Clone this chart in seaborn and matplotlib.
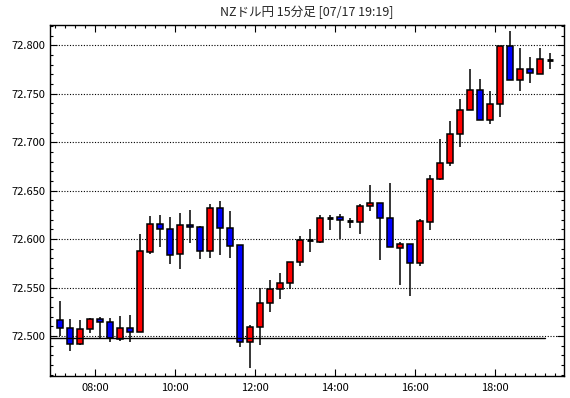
import matplotlib
matplotlib.use("Agg")
import pandas as pd
import seaborn as sns
import matplotlib.pyplot as plt
from matplotlib.ticker import MultipleLocator, FixedLocator

# 15 minute bars (bar start time), NZD/JPY
bar_times = ["07:00", "07:15", "07:30", "07:45", "08:00", "08:15", "08:30", "08:45",
             "09:00", "09:15", "09:30", "09:45", "10:00", "10:15", "10:30", "10:45",
             "11:00", "11:15", "11:30", "11:45", "12:00", "12:15", "12:30", "12:45",
             "13:00", "13:15", "13:30", "13:45", "14:00", "14:15", "14:30", "14:45",
             "15:00", "15:15", "15:30", "15:45", "16:00", "16:15", "16:30", "16:45",
             "17:00", "17:15", "17:30", "17:45", "18:00", "18:15", "18:30", "18:45",
             "19:00", "19:15"]
open_ = [72.517, 72.508, 72.492, 72.507, 72.518, 72.514, 72.497, 72.508,
         72.504, 72.587, 72.616, 72.610, 72.585, 72.615, 72.612, 72.588,
         72.632, 72.611, 72.594, 72.494, 72.509, 72.534, 72.548, 72.555,
         72.576, 72.599, 72.597, 72.622, 72.623, 72.619, 72.618, 72.634,
         72.637, 72.622, 72.591, 72.595, 72.575, 72.618, 72.662, 72.679,
         72.708, 72.733, 72.754, 72.723, 72.739, 72.799, 72.764, 72.776,
         72.770, 72.785]
high = [72.536, 72.518, 72.516, 72.519, 72.520, 72.519, 72.521, 72.522,
        72.605, 72.624, 72.625, 72.623, 72.627, 72.630, 72.614, 72.636,
        72.639, 72.629, 72.594, 72.511, 72.550, 72.558, 72.565, 72.576,
        72.603, 72.610, 72.625, 72.625, 72.626, 72.622, 72.636, 72.656,
        72.637, 72.658, 72.597, 72.595, 72.621, 72.666, 72.703, 72.722,
        72.745, 72.776, 72.765, 72.753, 72.799, 72.815, 72.797, 72.788,
        72.797, 72.792]
low = [72.500, 72.484, 72.491, 72.503, 72.498, 72.494, 72.495, 72.494,
       72.504, 72.585, 72.592, 72.574, 72.569, 72.596, 72.579, 72.580,
       72.584, 72.581, 72.489, 72.467, 72.491, 72.525, 72.538, 72.549,
       72.572, 72.587, 72.596, 72.609, 72.600, 72.611, 72.605, 72.629,
       72.578, 72.592, 72.553, 72.541, 72.572, 72.609, 72.661, 72.675,
       72.695, 72.733, 72.723, 72.719, 72.726, 72.764, 72.753, 72.761,
       72.770, 72.776]
close = [72.508, 72.492, 72.507, 72.518, 72.514, 72.498, 72.508, 72.504,
         72.588, 72.616, 72.610, 72.584, 72.615, 72.612, 72.588, 72.632,
         72.611, 72.593, 72.494, 72.509, 72.534, 72.548, 72.555, 72.576,
         72.599, 72.599, 72.622, 72.622, 72.620, 72.619, 72.634, 72.637,
         72.622, 72.592, 72.595, 72.575, 72.619, 72.662, 72.679, 72.708,
         72.733, 72.754, 72.723, 72.739, 72.799, 72.764, 72.776, 72.771,
         72.786, 72.785]
ref_price = 72.498   # solid reference line
hour_ticks = [8, 10, 12, 14, 16, 18]
hour_labels = ["08:00", "10:00", "12:00", "14:00", "16:00", "18:00"]
title = "NZドル円 15分足 [07/17 19:19]"

df = pd.DataFrame({"time": bar_times, "open": open_, "high": high,
                   "low": low, "close": close})
t = pd.to_datetime(df["time"], format="%H:%M")
df["x"] = t.dt.hour + t.dt.minute / 60 + 7.5 / 60   # bar centre in hours

sns.set_style("ticks")
plt.rcParams["font.family"] = ["Noto Sans CJK JP", "DejaVu Sans"]

fig = plt.figure(figsize=(5.7, 3.98), dpi=100)
ax = fig.add_axes([50 / 570, 22 / 398, 514 / 570, 351 / 398])

body_w = 0.155
up = df[df["close"] > df["open"]]
down = df[df["close"] < df["open"]]
flat = df[df["close"] == df["open"]]

ax.vlines(df["x"], df["low"], df["high"], color="black", lw=1.1, zorder=2)
ax.bar(up["x"], up["close"] - up["open"], bottom=up["open"], width=body_w,
       color="#ff0000", edgecolor="black", linewidth=1.1, zorder=3)
ax.bar(down["x"], down["open"] - down["close"], bottom=down["close"], width=body_w,
       color="#0000ff", edgecolor="black", linewidth=1.1, zorder=3)
ax.hlines(flat["close"], flat["x"] - body_w / 2, flat["x"] + body_w / 2,
          color="black", lw=2.0, zorder=3)

# reference line up to the latest bar
sns.lineplot(x=[6.875, df["x"].iloc[-1] - 0.125], y=[ref_price, ref_price],
             color="black", lw=1.0, ax=ax, zorder=4)

ax.set_xlim(6.875, 19.725)
ax.set_ylim(72.4587, 72.821)

ax.xaxis.set_major_locator(FixedLocator(hour_ticks))
ax.set_xticklabels(hour_labels)
ax.xaxis.set_minor_locator(MultipleLocator(0.25))
ax.yaxis.set_major_locator(MultipleLocator(0.05))
ax.yaxis.set_minor_locator(MultipleLocator(0.01))
ax.yaxis.set_major_formatter(plt.FuncFormatter(lambda v, p: f"{v:.3f}"))

ax.yaxis.grid(True, which="major", color="black", lw=0.8, linestyle=(0, (1, 1.5)))
ax.set_axisbelow(True)

ax.tick_params(axis="both", which="both", direction="in", top=True, right=True,
               color="black", width=0.8)
ax.tick_params(which="major", length=5)
ax.tick_params(which="minor", length=2.5)
ax.tick_params(axis="both", labelsize=8, labelcolor="black")
ax.tick_params(axis="x", pad=5)
ax.tick_params(axis="y", pad=3)
for s in ax.spines.values():
    s.set_color("black")
    s.set_linewidth(1.0)

ax.set_xlabel("")
ax.set_ylabel("")
fig.text(307 / 570, 1 - 12 / 398, title, ha="center", va="center", fontsize=9)

fig.savefig("out.png", dpi=100)
